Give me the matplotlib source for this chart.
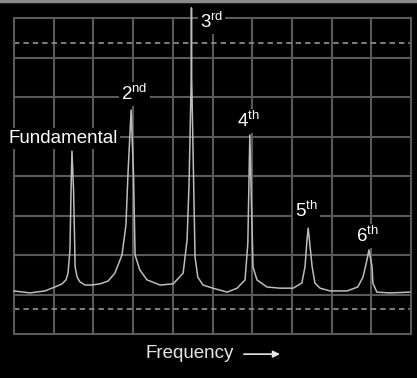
import numpy as np
import matplotlib
matplotlib.use('Agg')
import matplotlib.pyplot as plt
from matplotlib.lines import Line2D

plt.rcParams['font.family'] = ['Liberation Sans', 'DejaVu Sans']
plt.rcParams['mathtext.fontset'] = 'custom'
plt.rcParams['mathtext.rm'] = 'Liberation Sans'
plt.rcParams['mathtext.it'] = 'Liberation Sans'

# spectrum trace (x in divisions, level in divisions)
freq = [0.00, 0.40, 0.78, 1.03, 1.21, 1.31, 1.36, 1.41, 1.44, 1.46, 1.50, 1.54,
        1.59, 1.66, 1.79, 1.96, 2.17, 2.37, 2.54, 2.72, 2.82, 2.87, 2.95, 3.01,
        3.05, 3.17, 3.35, 3.68, 4.01, 4.26, 4.36, 4.41, 4.47, 4.47, 4.47, 4.56,
        4.63, 4.76, 5.01, 5.37, 5.62, 5.82, 5.89, 5.94, 6.02, 6.12, 6.37, 6.70,
        7.03, 7.25, 7.33, 7.38, 7.41, 7.51, 7.58, 7.71, 7.96, 8.39, 8.66, 8.79,
        8.89, 8.94, 9.02, 9.04, 9.14, 9.47, 9.97]
level = [1.09, 1.04, 1.09, 1.19, 1.27, 1.37, 1.54, 2.13, 3.82, 4.63, 3.65, 1.70,
         1.44, 1.32, 1.24, 1.24, 1.27, 1.34, 1.54, 2.00, 2.76, 4.03, 5.67, 4.03,
         2.00, 1.62, 1.37, 1.24, 1.27, 1.54, 2.38, 3.82, 6.78, 8.25, 6.78, 1.95,
         1.44, 1.24, 1.16, 1.06, 1.16, 1.37, 2.30, 5.04, 1.70, 1.37, 1.19, 1.16,
         1.16, 1.29, 1.70, 2.38, 2.68, 1.70, 1.29, 1.16, 1.09, 1.09, 1.19, 1.44,
         1.87, 2.13, 1.70, 1.29, 1.06, 1.04, 1.06]

# harmonic labels: text, x, baseline y
labels = ['Fundamental', '$2^{\\mathrm{nd}}$', '$3^{\\mathrm{rd}}$',
          '$4^{\\mathrm{th}}$', '$5^{\\mathrm{th}}$', '$6^{\\mathrm{th}}$']
label_x = [1.25, 3.03, 4.97, 5.91, 7.37, 8.90]
label_y = [4.84, 5.92, 7.75, 5.24, 2.96, 2.33]

ref_levels = [0.63, 7.37]  # dashed reference lines

fig = plt.figure(figsize=(4.17, 3.78), dpi=100, facecolor='black')
ax = fig.add_axes([14 / 417, 44 / 378, 397 / 417, 316 / 378])
ax.set_facecolor('black')
ax.set_xlim(0, 10)
ax.set_ylim(0, 8)

grid_c = '#5a5a5a'
for v in range(1, 10):
    ax.axvline(v, color=grid_c, lw=1.5, zorder=1)
for h in range(1, 8):
    ax.axhline(h, color=grid_c, lw=1.5, zorder=1)
for s in ax.spines.values():
    s.set_color(grid_c)
    s.set_linewidth(1.5)
for r in ref_levels:
    ax.axhline(r, color='#8a8a8a', lw=1.3, ls=(0, (3, 2.2)), zorder=1)

ax.set_xticks([])
ax.set_yticks([])

ax.plot(freq, level, color='#bdbdbd', lw=1.1, zorder=3, clip_on=False)

for t, x, y in zip(labels, label_x, label_y):
    ax.text(x, y, t, color='white', fontsize=13.5, ha='center', va='baseline',
            zorder=4, bbox=dict(facecolor='black', edgecolor='none', pad=1.5))

fig.text(190 / 417, 1 - 353 / 378, 'Frequency', color='#e6e6e6', fontsize=13.5,
         ha='center', va='center')
ax.annotate('', xy=(6.77, -0.51), xytext=(5.72, -0.51),
            xycoords='data', annotation_clip=False,
            arrowprops=dict(arrowstyle='-|>', color='#e6e6e6', lw=1.2,
                            mutation_scale=10))

fig.add_artist(Line2D([0, 1], [0.997, 0.997], color='#8a8a8a', lw=2.5,
                      transform=fig.transFigure))

fig.savefig('out.png', dpi=100, facecolor='black')
